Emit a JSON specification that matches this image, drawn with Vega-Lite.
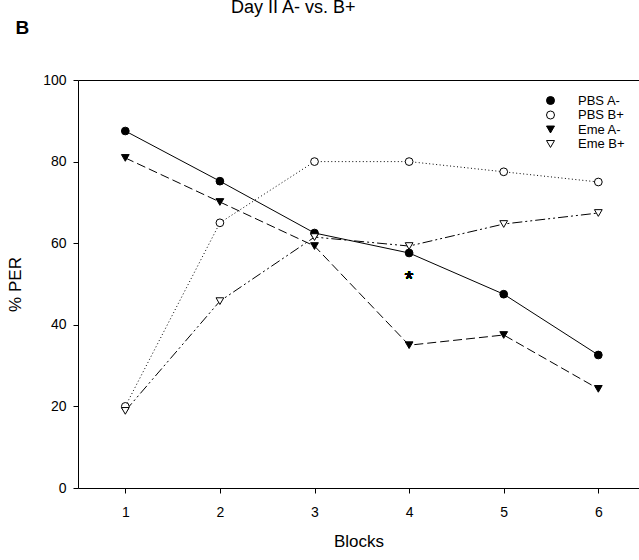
{
  "$schema": "https://vega.github.io/schema/vega-lite/v6.json",
  "width": 561,
  "height": 408,
  "autosize": {"type": "none"},
  "padding": {"left": 78, "top": 80, "right": 0, "bottom": 72},
  "background": "white",
  "title": {
    "text": "Day II A- vs. B+",
    "anchor": "start",
    "frame": "group",
    "dx": 153,
    "dy": 12,
    "offset": -1,
    "baseline": "alphabetic",
    "font": "Liberation Sans",
    "fontSize": 18,
    "fontWeight": "normal",
    "color": "black"
  },
  "config": {
    "view": {"stroke": null},
    "font": "Liberation Sans",
    "axis": {
      "domainColor": "black",
      "tickColor": "black",
      "labelColor": "black",
      "titleColor": "black",
      "labelFont": "Liberation Sans",
      "titleFont": "Liberation Sans",
      "labelFontSize": 14,
      "titleFontSize": 17,
      "titleFontWeight": "normal",
      "grid": false,
      "tickSize": 5,
      "domainWidth": 1,
      "tickWidth": 1
    },
    "legend": {
      "padding": 0,
      "labelFont": "Liberation Sans",
      "labelFontSize": 13,
      "labelColor": "black",
      "labelOffset": 21,
      "rowPadding": 0.5,
      "symbolSize": 64,
      "symbolStrokeWidth": 1
    }
  },
  "data": {
    "values": [
      {"block": 1, "group": "PBS A-", "per": 87.5},
      {"block": 2, "group": "PBS A-", "per": 75.2},
      {"block": 3, "group": "PBS A-", "per": 62.5},
      {"block": 4, "group": "PBS A-", "per": 57.6},
      {"block": 5, "group": "PBS A-", "per": 47.5},
      {"block": 6, "group": "PBS A-", "per": 32.6},
      {"block": 1, "group": "PBS B+", "per": 20.0},
      {"block": 2, "group": "PBS B+", "per": 65.0},
      {"block": 3, "group": "PBS B+", "per": 80.0},
      {"block": 4, "group": "PBS B+", "per": 80.0},
      {"block": 5, "group": "PBS B+", "per": 77.5},
      {"block": 6, "group": "PBS B+", "per": 75.0},
      {"block": 1, "group": "Eme A-", "per": 80.9},
      {"block": 2, "group": "Eme A-", "per": 70.1},
      {"block": 3, "group": "Eme A-", "per": 59.3},
      {"block": 4, "group": "Eme A-", "per": 35.0},
      {"block": 5, "group": "Eme A-", "per": 37.5},
      {"block": 6, "group": "Eme A-", "per": 24.3},
      {"block": 1, "group": "Eme B+", "per": 18.9},
      {"block": 2, "group": "Eme B+", "per": 45.8},
      {"block": 3, "group": "Eme B+", "per": 61.5},
      {"block": 4, "group": "Eme B+", "per": 59.3},
      {"block": 5, "group": "Eme B+", "per": 64.7},
      {"block": 6, "group": "Eme B+", "per": 67.4}
    ]
  },
  "encoding": {
    "y": {
      "field": "per",
      "type": "quantitative",
      "scale": {"domain": [0, 100], "nice": false},
      "axis": {"values": [0, 20, 40, 60, 80, 100], "title": "% PER", "labelPadding": 7, "titlePadding": 18, "labelColor": "black"}
    }
  },
  "resolve": {"axis": {"x": "independent"}},
  "layer": [
    {
      "transform": [{"filter": {"field": "group", "equal": "PBS A-"}}],
      "mark": {"type": "line", "color": "black", "strokeWidth": 1},
      "encoding": {
        "x": {
          "field": "block",
          "type": "quantitative",
          "scale": {"domain": [0.5, 6.43], "nice": false, "zero": false},
          "axis": {"orient": "bottom", "values": [1, 2, 3, 4, 5, 6], "format": "d", "title": "Blocks", "labelPadding": 12, "titlePadding": 14, "labelColor": "black"}
        }
      }
    },
    {
      "transform": [{"filter": {"field": "group", "equal": "PBS B+"}}],
      "mark": {"type": "line", "color": "black", "strokeWidth": 1, "strokeDash": [1, 2.5]},
      "encoding": {"x": {"field": "block", "type": "quantitative", "axis": null}}
    },
    {
      "transform": [{"filter": {"field": "group", "equal": "Eme A-"}}],
      "mark": {"type": "line", "color": "black", "strokeWidth": 1, "strokeDash": [9, 4]},
      "encoding": {"x": {"field": "block", "type": "quantitative", "axis": null}}
    },
    {
      "transform": [{"filter": {"field": "group", "equal": "Eme B+"}}],
      "mark": {"type": "line", "color": "black", "strokeWidth": 1, "strokeDash": [10, 3, 2, 3, 2, 3]},
      "encoding": {"x": {"field": "block", "type": "quantitative", "axis": null}}
    },
    {
      "mark": {"type": "point", "filled": true, "strokeWidth": 1, "size": 60, "opacity": 1},
      "encoding": {
        "x": {
          "field": "block",
          "type": "quantitative",
          "axis": {"orient": "top", "labels": false, "ticks": false, "title": "B", "titleX": -63, "titleY": -47, "titleAlign": "left", "titleBaseline": "alphabetic", "titleAngle": 0, "titleFontSize": 19, "titleFontWeight": "bold"}
        },
        "shape": {
          "field": "group",
          "type": "nominal",
          "scale": {
            "domain": ["PBS A-", "PBS B+", "Eme A-", "Eme B+"],
            "range": ["circle", "circle", "triangle-down", "triangle-down"]
          },
          "legend": {"title": null, "orient": "none", "legendX": 466, "legendY": 14}
        },
        "fill": {
          "field": "group",
          "type": "nominal",
          "scale": {
            "domain": ["PBS A-", "PBS B+", "Eme A-", "Eme B+"],
            "range": ["black", "white", "black", "white"]
          },
          "legend": {"title": null, "orient": "none", "legendX": 466, "legendY": 14}
        },
        "stroke": {
          "field": "group",
          "type": "nominal",
          "scale": {
            "domain": ["PBS A-", "PBS B+", "Eme A-", "Eme B+"],
            "range": ["black", "black", "black", "black"]
          },
          "legend": {"title": null, "orient": "none", "legendX": 466, "legendY": 14}
        }
      }
    },
    {
      "mark": {"type": "text", "text": "*", "fontSize": 22, "font": "Liberation Sans", "fill": "black", "baseline": "middle", "dy": 2},
      "encoding": {
        "x": {"datum": 4, "type": "quantitative", "axis": null},
        "y": {"datum": 51.7, "type": "quantitative"}
      }
    }
  ]
}
